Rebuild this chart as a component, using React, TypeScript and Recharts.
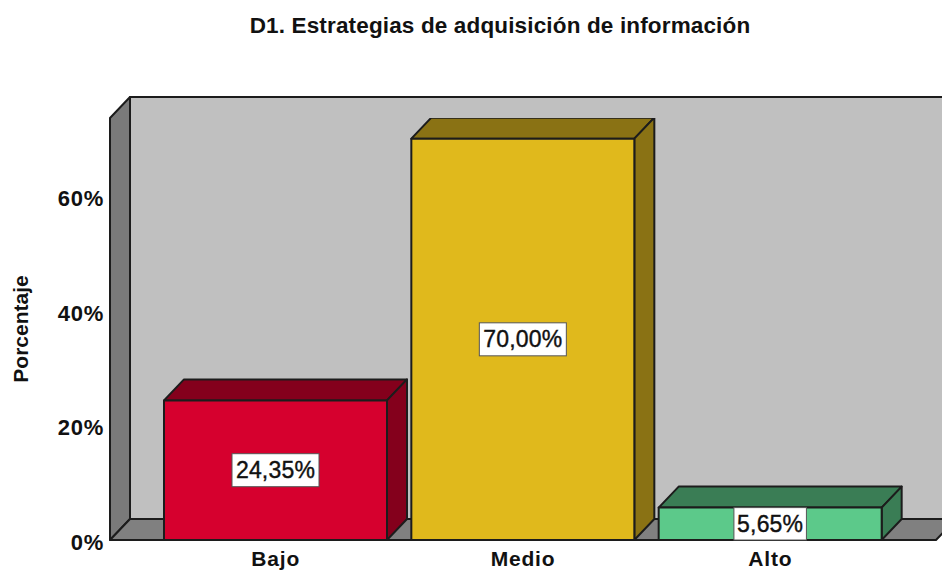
import { Bar, BarChart, LabelList, XAxis, YAxis, usePlotArea } from 'recharts'

const categories = ['Bajo', 'Medio', 'Alto']
const percentages = [24.35, 70.0, 5.65]
const yTicks = [0, 20, 40, 60]

const frontColors = ['#d6002e', '#e0b91c', '#5cc98a']
const darkColors = ['#84001c', '#8a7214', '#3a7d55']

const data = categories.map((name, i) => ({ name, value: percentages[i] }))

const FONT = '"Liberation Sans", Arial, sans-serif'
const EDGE = '#1c1c1c'
const DX = 20
const DY = 21

function Walls() {
  const plot = usePlotArea()
  if (!plot) return null
  const { x, y, width, height } = plot
  const bottom = y + height
  return (
    <g stroke={EDGE} strokeWidth={2} strokeLinejoin="round">
      <rect x={x + DX} y={y - DY} width={width} height={height} fill="#c0c0c0" />
      <polygon
        points={`${x},${y} ${x + DX},${y - DY} ${x + DX},${bottom - DY} ${x},${bottom}`}
        fill="#7a7a7a"
      />
      <polygon
        points={`${x},${bottom} ${x + DX},${bottom - DY} ${x + width + DX},${bottom - DY} ${x + width},${bottom}`}
        fill="#808080"
      />
    </g>
  )
}

function Box3D(props: any) {
  const { x, y, width, height, index } = props
  const dark = darkColors[index]
  return (
    <g stroke={EDGE} strokeWidth={2} strokeLinejoin="round">
      <polygon
        points={`${x},${y} ${x + DX},${y - DY} ${x + width + DX},${y - DY} ${x + width},${y}`}
        fill={dark}
      />
      <polygon
        points={`${x + width},${y} ${x + width + DX},${y - DY} ${x + width + DX},${y + height - DY} ${x + width},${y + height}`}
        fill={dark}
      />
      <rect x={x} y={y} width={width} height={height} fill={frontColors[index]} />
    </g>
  )
}

function ValueBox(props: any) {
  const { x, y, width, height, value } = props
  const text = `${Number(value).toFixed(2).replace('.', ',')}%`
  const boxW = text.length * 14.5
  const boxH = Math.min(33, height)
  const cx = x + width / 2
  const cy = y + height / 2
  return (
    <g>
      <rect
        x={cx - boxW / 2}
        y={cy - boxH / 2}
        width={boxW}
        height={boxH}
        fill="#ffffff"
        stroke="#555555"
        strokeWidth={1}
      />
      <text
        x={cx}
        y={cy + 2}
        textAnchor="middle"
        dominantBaseline="middle"
        fontFamily={FONT}
        fontSize={23}
        letterSpacing={0.2}
        fill="#111111"
        stroke="#111111"
        strokeWidth={0.4}
      >
        {text}
      </text>
    </g>
  )
}

function YTick(props: any) {
  const { x, y, payload } = props
  return (
    <text
      x={x + 6}
      y={y + 10}
      textAnchor="end"
      fontFamily={FONT}
      fontSize={22}
      fontWeight={700}
      letterSpacing={0.7}
      fill="#111111"
    >
      {`${payload.value}%`}
    </text>
  )
}

export default function App() {
  const xTick = { fontFamily: FONT, fontSize: 21, fontWeight: 700, fill: '#111111', letterSpacing: 0.8 }
  return (
    <div style={{ position: 'absolute', left: 0, top: 0, width: 942, height: 572, background: '#ffffff' }}>
      <BarChart
        width={942}
        height={572}
        data={data}
        barSize={223}
        margin={{ top: 118, right: 6, bottom: 0, left: 0 }}
      >
        <Walls />
        <XAxis
          dataKey="name"
          height={32}
          axisLine={false}
          tickLine={false}
          tickMargin={5}
          padding={{ left: 42, right: 42 }}
          tick={xTick}
        />
        <YAxis
          width={110}
          domain={[0, 73.6]}
          ticks={yTicks}
          allowDataOverflow
          axisLine={false}
          tickLine={false}
          tickMargin={6}
          tick={YTick}
        />
        <Bar dataKey="value" shape={Box3D} isAnimationActive={false}>
          <LabelList dataKey="value" content={ValueBox} />
        </Bar>
        <text
          x={500}
          y={33}
          textAnchor="middle"
          fontFamily={FONT}
          fontSize={22.5}
          fontWeight={700}
          letterSpacing={0.15}
          fill="#111111"
        >
          D1. Estrategias de adquisición de información
        </text>
        <text
          x={28}
          y={329}
          textAnchor="middle"
          transform="rotate(-90 28 329)"
          fontFamily={FONT}
          fontSize={21}
          fontWeight={700}
          fill="#111111"
        >
          Porcentaje
        </text>
      </BarChart>
    </div>
  )
}
